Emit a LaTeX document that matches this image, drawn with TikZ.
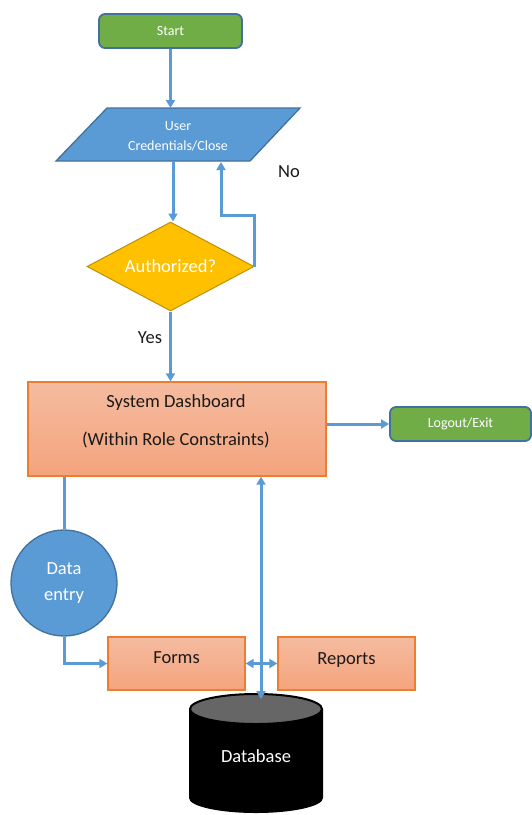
\documentclass[tikz,border=0pt]{standalone}
\usepackage{fontspec}
\setmainfont{Carlito}
\usetikzlibrary{shapes.geometric,arrows.meta}
\definecolor{flowblue}{HTML}{5B9BD5}
\definecolor{edgeblue}{HTML}{41719C}
\definecolor{okgreen}{HTML}{70AD47}
\definecolor{gold}{HTML}{FFC000}
\definecolor{goldedge}{HTML}{BF9000}
\definecolor{salmontop}{HTML}{F5BBA0}
\definecolor{salmonbot}{HTML}{F4A47C}
\definecolor{salmonedge}{HTML}{ED7D31}
\definecolor{inkdark}{HTML}{1A1A1A}
\definecolor{dbtopgray}{HTML}{666666}
\tikzset{
  flow/.style={draw=flowblue, line width=3pt, -{Triangle[length=8pt,width=9pt]}},
  flowline/.style={draw=flowblue, line width=3pt},
  twoway/.style={flow, {Triangle[length=8pt,width=9pt]}-{Triangle[length=8pt,width=9pt]}},
  termbox/.style={rectangle, rounded corners=6pt, fill=okgreen, draw=edgeblue,
    line width=1.8pt, text=white, font=\fontsize{14}{16}\selectfont, inner sep=0pt},
  procbox/.style={rectangle, top color=salmontop, bottom color=salmonbot,
    draw=salmonedge, line width=1.3pt, inner sep=0pt},
  bigtext/.style={font=\fontsize{18.5}{22}\selectfont, text=inkdark},
}
\begin{document}
\begin{tikzpicture}[x=1pt,y=-1pt]
\useasboundingbox (0,0) rectangle (531,815);

% start terminal
\node[termbox, minimum width=143pt, minimum height=34pt] (start) at (170.5,31) {Start};

% input parallelogram for the credentials
\draw[fill=flowblue, draw=edgeblue, line width=1.3pt]
  (107,108) -- (300,108) -- (250,161) -- (56,161) -- cycle;
\node[align=center, text=white, font=\fontsize{14}{20}\selectfont] (cred) at (178,136)
  {User\\Credentials/Close};
\coordinate (credtop) at (170.5,108);
\coordinate (credbot) at (173,161);
\coordinate (credret) at (221,162);

% decision
\node[diamond, aspect=1.876, fill=gold, draw=goldedge, line width=1pt, inner sep=0pt,
  minimum width=167pt, minimum height=89pt, text=white,
  font=\fontsize{18.5}{22}\selectfont] (auth) at (170.5,266.5) {Authorized?};

% dashboard
\node[procbox, minimum width=298pt, minimum height=94pt] (dash) at (177,429) {};
\node[bigtext, align=center] (dashtext) at (176,421.5)
  {System Dashboard\\[16pt](Within Role Constraints)};

% logout terminal
\node[termbox, minimum width=141pt, minimum height=34pt] (logout) at (460.5,424) {Logout/Exit};

% data entry
\node[circle, fill=flowblue, draw=edgeblue, line width=1.3pt, minimum size=106pt,
  inner sep=0pt, align=center, text=white, font=\fontsize{18.5}{26}\selectfont]
  (dentry) at (64,583) {Data\\entry};

% forms and reports
\node[procbox, bigtext, minimum width=137pt, minimum height=53pt,
  text height=13pt, text depth=13pt] (forms) at (176.5,663.5) {Forms};
\node[procbox, bigtext, minimum width=137pt, minimum height=53pt,
  text height=13pt, text depth=11pt] (reports) at (346.5,663.5) {Reports};

% database cylinder
\fill[black] (189,709) -- (189,798) arc[start angle=180, end angle=360, x radius=67, y radius=-15]
  -- (323,709) -- cycle;
\fill[dbtopgray, draw=black, line width=2pt] (256,709) ellipse[x radius=66, y radius=15];
\node[text=white, font=\fontsize{18.5}{22}\selectfont] (db) at (256,756) {Database};
\coordinate (dbtop) at (261,699);

% connectors
\draw[flow] (start.south) -- (credtop);
\draw[flow] (credbot) -- (auth.north -| credbot);
\draw[flow] (auth.east) -- ++(0,-51.5) -| (credret);
\draw[flow] (auth.south) -- (auth.south |- dash.north);
\draw[flow] (dash.east |- logout.west) -- (logout.west);
\draw[flowline] (dentry.north |- dash.south) -- (dentry.north);
\draw[flow] (dentry.south) |- (forms.west);
\draw[twoway] (forms.east) -- (reports.west);
\draw[twoway] (dbtop |- dash.south) -- (dbtop);

% branch labels
\node[bigtext] (nolabel) at (289,172) {No};
\node[bigtext] (yeslabel) at (150,338) {Yes};
\end{tikzpicture}
\end{document}
